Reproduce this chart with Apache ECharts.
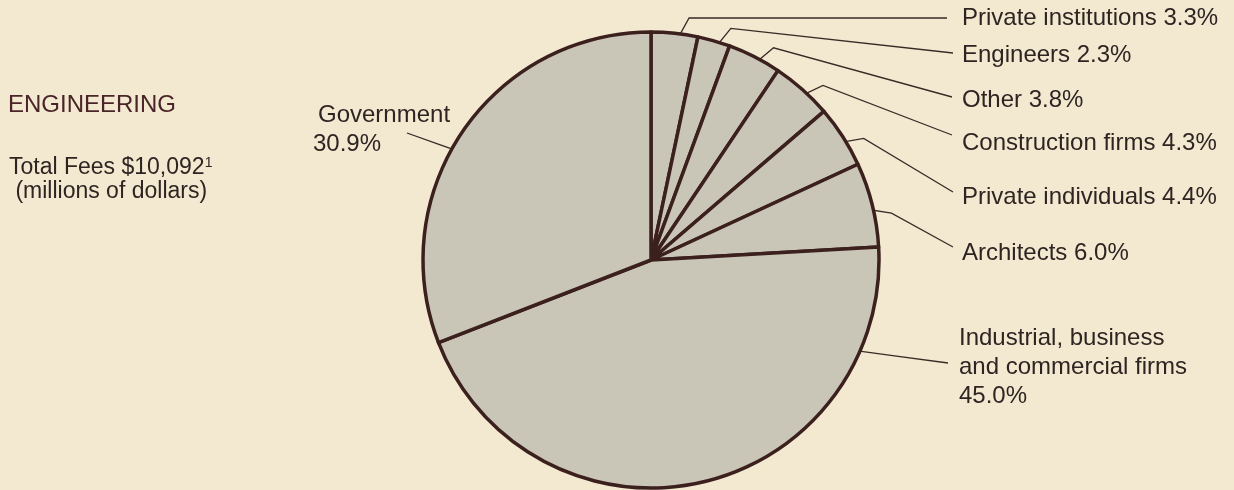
<!DOCTYPE html>
<html>
<head>
<meta charset="utf-8">
<script src="https://cdn.jsdelivr.net/npm/echarts@6/dist/echarts.min.js"></script>
<style>
  html, body { margin: 0; padding: 0; background: #f2e9d0; }
  #app { width: 1234px; height: 490px; }
</style>
</head>
<body>
<div id="app"></div>
<script>
// clients of engineering firms, share of total fees (%)
const clients = [
  "Private institutions",
  "Engineers",
  "Other",
  "Construction firms",
  "Private individuals",
  "Architects",
  "Industrial, business\nand commercial firms",
  "Government"
];
const shares = [3.3, 2.3, 3.8, 4.3, 4.4, 6.0, 45.0, 30.9];

// pie geometry (px)
const CX = 651, CY = 260, R = 228;
const INK = "#2f2422";
const FONT = "'Liberation Sans', Arial, sans-serif";

// where each label sits and where its leader line stops
const labelSpots = [
  { x: 962, y: 18, ex: 947, ey: 18 },
  { x: 962, y: 55, ex: 953, ey: 53 },
  { x: 962, y: 100, ex: 952, ey: 97 },
  { x: 962, y: 143, ex: 952, ey: 135 },
  { x: 962, y: 197, ex: 953, ey: 192 },
  { x: 962, y: 253, ex: 953, ey: 247 },
  { x: 959, y: 367, ex: 948, ey: 363, anchor: 115, straight: true },
  { x: 313, y: 130, ex: 407, ey: 133, anchor: 300, straight: true }
];

const total = shares.reduce((a, b) => a + b, 0);
const midAngles = [];
let cum = 0;
shares.forEach(v => {
  midAngles.push(((cum + v / 2) / total) * 360);
  cum += v;
});

function polar(deg, d) {
  const t = (deg * Math.PI) / 180;
  return [CX + d * Math.sin(t), CY - d * Math.cos(t)];
}

function labelText(p) {
  const pct = p.value.toFixed(1) + "%";
  if (p.dataIndex === 7) return "{g|" + p.name + "}\n" + pct;
  if (p.name.indexOf("\n") >= 0) return p.name + "\n" + pct;
  return p.name + " " + pct;
}

const chart = echarts.init(document.getElementById("app"));
chart.setOption({
  backgroundColor: "#f2e9d0",
  animation: false,
  title: [
    {
      text: "ENGINEERING",
      left: 8,
      top: 93,
      padding: 0,
      textStyle: { color: "#4a2428", fontFamily: FONT, fontSize: 24, fontWeight: "normal" }
    },
    {
      text: "Total Fees $10,092{sup|1}\n (millions of dollars)",
      left: 9,
      top: 156,
      padding: 0,
      textStyle: {
        color: INK,
        fontFamily: FONT,
        fontSize: 23,
        fontWeight: "normal",
        lineHeight: 24,
        rich: {
          sup: { fontSize: 14, fontFamily: FONT, color: INK, verticalAlign: "top", lineHeight: 24 }
        }
      }
    }
  ],
  series: [
    {
      type: "pie",
      center: [CX, CY],
      radius: R,
      startAngle: 90,
      clockwise: true,
      avoidLabelOverlap: false,
      silent: true,
      itemStyle: {
        color: "#c9c5b7",
        borderColor: "#3b201e",
        borderWidth: 3.5,
        borderJoin: "round"
      },
      label: {
        show: true,
        position: "outside",
        color: INK,
        fontFamily: FONT,
        fontSize: 24,
        lineHeight: 29,
        formatter: labelText,
        rich: {
          g: { color: INK, fontFamily: FONT, fontSize: 24, lineHeight: 29, padding: [0, 0, 0, 5] }
        }
      },
      labelLine: {
        show: true,
        smooth: false,
        lineStyle: { color: "#3a2a26", width: 1.3 }
      },
      labelLayout: function (params) {
        const i = params.dataIndex;
        const s = labelSpots[i];
        const ang = s.anchor != null ? s.anchor : midAngles[i];
        const start = polar(ang, s.straight ? R * 0.92 : R * 0.94);
        const pts = s.straight
          ? [start, [(start[0] + s.ex) / 2, (start[1] + s.ey) / 2], [s.ex, s.ey]]
          : [start, polar(ang + 3, R + 17), [s.ex, s.ey]];
        return {
          x: s.x,
          y: s.y,
          align: "left",
          verticalAlign: "middle",
          labelLinePoints: pts
        };
      },
      data: clients.map((name, i) => ({ name: name, value: shares[i] }))
    }
  ]
});
window.onresize = function () {
  chart.resize();
};
</script>
</body>
</html>
